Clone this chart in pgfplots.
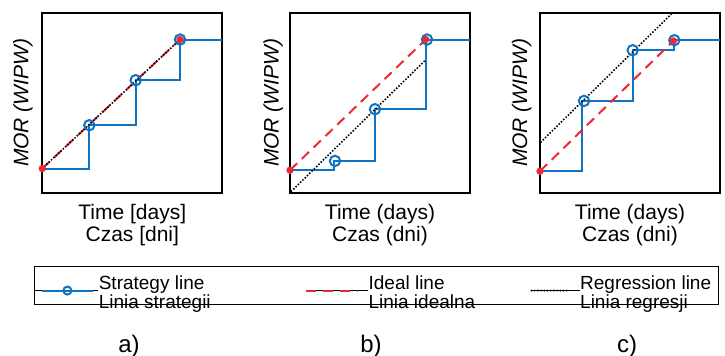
\documentclass[border=0pt]{standalone}
\usepackage{fontspec}
\setmainfont{Liberation Sans}
\usepackage{pgfplots}
\pgfplotsset{compat=1.18}
\definecolor{sblue}{RGB}{15,115,195}
\definecolor{sred}{RGB}{238,42,48}
\newcommand{\lgtext}[3]{\parbox[t]{#1}{\fontsize{9.5}{9.6}\selectfont #2\\#3}}
\pgfplotsset{
  panel/.style={
    scale only axis, width=90pt, height=90pt,
    xmin=0, xmax=180, ymin=0, ymax=180,
    xtick=\empty, ytick=\empty,
    axis line style={line width=1pt},
    anchor=south west,
    xlabel style={at={(axis description cs:0.5,0)}, anchor=north, yshift=-5.8pt,
      inner sep=0pt, align=center, font=\fontsize{10.5}{9.75}\selectfont},
    ylabel style={at={(axis description cs:-0.1,0.5)}, anchor=center,
      inner sep=0pt, font=\fontsize{10.5}{12}\selectfont\itshape},
    ylabel={MOR (WIPW)},
  },
  strat/.style={sblue, line width=1pt},
  circ/.style={sblue, only marks, mark=o, mark size=2.6pt, mark options={line width=1pt}},
  ideal/.style={sred, line width=1pt, dash pattern=on 5pt off 3.2pt, mark=*, mark size=1.3pt, mark options={solid, fill=sred}},
  regr/.style={black, line width=1.1pt, line cap=round, dash pattern=on 0pt off 1.6pt},
}
\begin{document}
\begin{tikzpicture}
\useasboundingbox (0pt,0pt) rectangle (362.5pt,177.5pt);
% panel a
\begin{axis}[panel, at={(21.15pt,81.15pt)},
  xlabel={Time [days]\\Czas [dni]},
  ylabel style={at={(axis description cs:-0.107,0.5)}},
  legend columns=3,
  legend style={at={(axis description cs:-0.0461,-0.4072)}, anchor=north west,
    draw=black, line width=0.6pt, inner xsep=0pt, inner ysep=4.6pt, column sep=0pt,
    nodes={inner sep=0pt, outer sep=0pt, text depth=0pt, font=\fontsize{9.5}{9.6}\selectfont, anchor=base west},
    cells={anchor=base west}},
]
\addplot[strat, forget plot] coordinates {(0,24.2) (47,24.2) (47,67.5) (93.4,67.5) (93.4,112.5) (137.7,112.5) (137.7,153.2) (180,153.2)};
\addplot[circ, forget plot] coordinates {(47,67.5) (93.4,112.5) (137.7,153.2)};
\addplot[ideal, forget plot] coordinates {(0,24.2) (137.7,153.2)};
\addplot[regr, forget plot] coordinates {(0,24.2) (137.7,153.2)};
\addlegendimage{legend image code/.code={
  \path (0pt,-0.5pt) -- (31.5pt,-0.5pt);
  \draw[sblue, line width=1pt] (3.35pt,-0.5pt) -- (28.85pt,-0.5pt);
  \draw[sblue, line width=1pt] (16.1pt,-0.5pt) circle (2pt);
}}
\addlegendentry{\lgtext{103.3pt}{Strategy line}{Linia strategii}}
\addlegendimage{legend image code/.code={
  \path (0pt,-0.5pt) -- (30.8pt,-0.5pt);
  \draw[sred, line width=1pt, dash pattern=on 5pt off 3.4pt] (0pt,-0.5pt) -- (25.3pt,-0.5pt);
}}
\addlegendentry{\lgtext{80.7pt}{Ideal line}{Linia idealna}}
\addlegendimage{legend image code/.code={
  \path (0pt,-0.5pt) -- (24.5pt,-0.5pt);
  \draw[black, line width=1.1pt, line cap=round, dash pattern=on 0pt off 1.6pt] (0.5pt,-0.5pt) -- (19.15pt,-0.5pt);
}}
\addlegendentry{\lgtext{69pt}{Regression line}{Linia regresji}}
\end{axis}
% panel b
\begin{axis}[panel, at={(145pt,81.15pt)},
  xlabel={Time (days)\\Czas (dni)},
  ylabel style={at={(axis description cs:-0.093,0.5)}},
]
\addplot[strat] coordinates {(0,22.5) (44.3,22.5) (44.3,31.8) (85,31.8) (85,83.5) (135.7,83.5) (135.7,153.2) (180,153.2)};
\addplot[circ] coordinates {(45,31.8) (85,83.5) (137,153.2)};
\addplot[ideal] coordinates {(0,22.5) (135.7,153.2)};
\addplot[regr] coordinates {(1.5,1.6) (134.3,131.5)};
\end{axis}
% panel c
\begin{axis}[panel, at={(270pt,81.15pt)},
  xlabel={Time (days)\\Czas (dni)},
  ylabel style={at={(axis description cs:-0.102,0.5)}},
]
\addplot[strat] coordinates {(0,21.5) (41.7,21.5) (41.7,91.8) (93.3,91.8) (93.3,142.5) (134.3,142.5) (134.3,152.5) (180,152.5)};
\addplot[circ] coordinates {(44,91.8) (92.7,142.5) (134.3,152.5)};
\addplot[ideal] coordinates {(0,21.5) (133.3,151.8)};
\addplot[regr] coordinates {(1,50.8) (132.7,180)};
\end{axis}
\node[font=\fontsize{12}{13}\selectfont, anchor=base] at (64.5pt,1.3pt) {a)};
\node[font=\fontsize{12}{13}\selectfont, anchor=base] at (185.5pt,1.3pt) {b)};
\node[font=\fontsize{12}{13}\selectfont, anchor=base] at (313.5pt,1.3pt) {c)};
\end{tikzpicture}
\end{document}
